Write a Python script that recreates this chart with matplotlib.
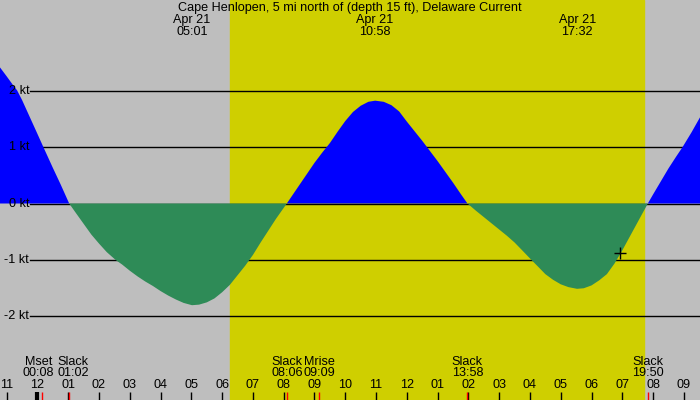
import numpy as np
import matplotlib
matplotlib.use('Agg')
import matplotlib.pyplot as plt
import matplotlib.transforms as mtransforms

plt.rcParams['font.family'] = ['Liberation Sans', 'DejaVu Sans']

# hours after midnight Apr 21, current speed in knots
hours = [-1.22, -1.0, -0.8, -0.66, -0.5, -0.25, 0.0, 0.19, 0.5, 0.75, 1.03,
         1.25, 1.5, 1.75, 2.0, 2.25, 2.54, 2.75, 3.0, 3.25, 3.5, 3.75, 4.0,
         4.25, 4.5, 4.75, 5.02, 5.25, 5.5, 5.75, 6.0, 6.25, 6.5, 6.75, 7.0,
         7.25, 7.5, 7.75, 8.1,
         8.25, 8.5, 8.75, 9.0, 9.25, 9.5, 9.75, 10.0, 10.25, 10.5, 10.75, 10.97,
         11.25, 11.5, 11.75, 12.0, 12.25, 12.5, 12.75, 13.0, 13.25, 13.5, 13.75, 13.97,
         14.25, 14.5, 14.75, 15.0, 15.25, 15.5, 15.75, 16.05, 16.25, 16.5, 16.75,
         17.0, 17.25, 17.53, 17.75, 18.0, 18.25, 18.5, 18.75, 19.0, 19.25, 19.5, 19.83,
         20.0, 20.25, 20.5, 20.75, 20.96, 21.25, 21.53]
speeds = [2.41, 2.25, 2.10, 2.0, 1.83, 1.53, 1.23, 1.0, 0.63, 0.34, 0.0,
          -0.17, -0.36, -0.55, -0.71, -0.86, -1.0, -1.08, -1.19, -1.29, -1.38, -1.46, -1.55,
          -1.63, -1.70, -1.76, -1.80, -1.79, -1.75, -1.68, -1.57, -1.44, -1.27, -1.10, -0.91,
          -0.69, -0.48, -0.27, 0.0,
          0.12, 0.32, 0.52, 0.72, 0.90, 1.07, 1.27, 1.46, 1.62, 1.73, 1.80, 1.82,
          1.80, 1.74, 1.63, 1.45, 1.28, 1.11, 0.93, 0.75, 0.56, 0.37, 0.17, 0.0,
          -0.13, -0.24, -0.35, -0.46, -0.57, -0.69, -0.83, -1.0, -1.11, -1.25, -1.35,
          -1.43, -1.48, -1.51, -1.50, -1.45, -1.36, -1.25, -1.06, -0.83, -0.58, -0.33, 0.0,
          0.16, 0.39, 0.62, 0.83, 1.0, 1.26, 1.53]

title = 'Cape Henlopen, 5 mi north of (depth 15 ft), Delaware Current'
sunrise = 6.25
sunset = 19.70

# max / min current
peak_hours = [5.017, 10.967, 17.533]
peak_labels = ['05:01', '10:58', '17:32']

# events along the bottom
event_names = ['Mset', 'Slack', 'Slack', 'Mrise', 'Slack', 'Slack']
event_times = ['00:08', '01:02', '08:06', '09:09', '13:58', '19:50']
event_hours = [0.133, 1.033, 8.1, 9.15, 13.967, 19.833]
event_nudge = [-3, 4, 0, 0, 0, 0]

hour_ticks = list(range(-1, 22))
hour_labels = ['%02d' % ((h - 1) % 12 + 1) for h in hour_ticks]

now_hour, now_speed = 18.92, -0.87
levels = [-2, -1, 0, 1, 2]

gray = '#bebebe'
day = '#cfcf00'
fs = 9.1

fig = plt.figure(figsize=(7, 4), dpi=100)
ax = fig.add_axes([0, 0, 1, 1])
ax.set_facecolor(gray)
ax.set_xlim(-1.218, 21.525)
ax.set_ylim(-3.478, 3.602)
ax.axis('off')

ax.axvspan(sunrise, sunset, color=day, zorder=0)

for lv in levels:
    ax.axhline(lv, xmin=30 / 700, xmax=1, color='black', lw=1, zorder=1)

x = np.array(hours)
y = np.array(speeds)
ax.fill_between(x, 0, y, where=y >= 0, interpolate=True, color='#0000ff', lw=0, zorder=2)
ax.fill_between(x, 0, y, where=y <= 0, interpolate=True, color='#2e8b57', lw=0, zorder=2)

for lv in levels:
    ax.text(-0.27, lv, '%d kt' % lv, ha='right', va='center', fontsize=fs, zorder=3)

ax.plot([now_hour], [now_speed], marker='+', color='black', ms=9, mew=1, zorder=4)

fig.text(0.5, 0.98, title, ha='center', va='center', fontsize=fs)

trans = mtransforms.blended_transform_factory(ax.transData, ax.transAxes)
for h, lab in zip(peak_hours, peak_labels):
    ax.text(h, 0.951, 'Apr 21', transform=trans, ha='center', va='center', fontsize=fs)
    ax.text(h, 0.921, lab, transform=trans, ha='center', va='center', fontsize=fs)

for h, lab in zip(hour_ticks, hour_labels):
    ax.text(h, 0.0375, lab, transform=trans, ha='center', va='center', fontsize=fs)
    ax.vlines(h, 0, 0.02, transform=trans, color='black', lw=3 if h == 0 else 1, zorder=3)

for name, t, h, dx in zip(event_names, event_times, event_hours, event_nudge):
    off = mtransforms.offset_copy(trans, fig=fig, x=dx, y=0, units='dots')
    ax.text(h, 0.095, name, transform=off, ha='center', va='center', fontsize=fs)
    ax.text(h, 0.067, t, transform=off, ha='center', va='center', fontsize=fs)
    ax.vlines(h, 0, 0.02, transform=trans, color='red', lw=1, zorder=4)

fig.savefig('out.png', dpi=100, facecolor=gray)
